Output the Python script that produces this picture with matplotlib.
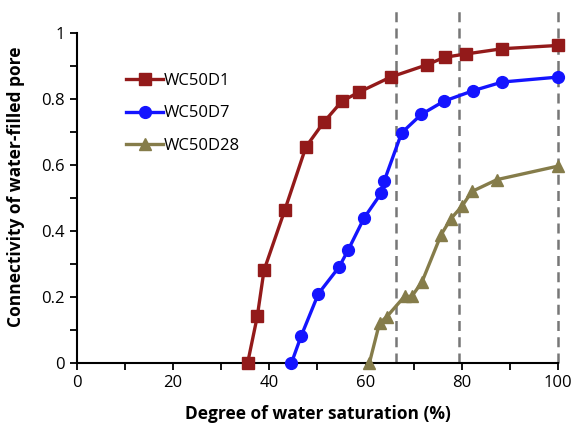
import matplotlib.pyplot as plt
from matplotlib.ticker import MultipleLocator

plt.rcParams['font.family'] = ['Open Sans', 'DejaVu Sans']

# WC50D1
sat_d1 = [35.5, 37.5, 38.9, 43.2, 47.6, 51.3, 55.1, 58.6, 65.2, 72.7, 76.4, 80.8, 88.4, 100]
con_d1 = [0, 0.141, 0.281, 0.463, 0.655, 0.730, 0.794, 0.821, 0.867, 0.904, 0.927, 0.937, 0.953, 0.963]

# WC50D7
sat_d7 = [44.6, 46.6, 50.2, 54.5, 56.4, 59.7, 63.3, 63.9, 67.5, 71.6, 76.3, 82.4, 88.4, 100]
con_d7 = [0, 0.081, 0.210, 0.291, 0.343, 0.440, 0.516, 0.553, 0.698, 0.754, 0.794, 0.826, 0.852, 0.867]

# WC50D28
sat_d28 = [60.8, 62.9, 64.4, 68.1, 69.6, 71.7, 75.7, 77.7, 80.0, 82.1, 87.3, 100]
con_d28 = [0, 0.121, 0.140, 0.202, 0.202, 0.245, 0.389, 0.437, 0.475, 0.520, 0.556, 0.597]

# vertical dashed reference lines
vlines = [66.4, 79.5, 100]

fig = plt.figure(figsize=(5.73, 4.23), dpi=100)
ax = fig.add_axes([0.134, 0.142, 0.84, 0.834])

for x in vlines:
    ax.axvline(x, color='#777777', linestyle=(0, (4, 2.5)), linewidth=1.8, zorder=1, clip_on=False)

ax.plot(sat_d1, con_d1, color='#931A1A', marker='s', markersize=8, linewidth=2.4, label='WC50D1', zorder=3, clip_on=False)
ax.plot(sat_d7, con_d7, color='#1414FF', marker='o', markersize=8.5, linewidth=2.4, label='WC50D7', zorder=3, clip_on=False)
ax.plot(sat_d28, con_d28, color='#857C4A', marker='^', markersize=8, linewidth=2.4, label='WC50D28', zorder=3, clip_on=False)

ax.set_xlim(0, 100)
ax.set_ylim(0, 1.07)
ax.spines['top'].set_visible(False)
ax.spines['right'].set_visible(False)
ax.spines['left'].set_bounds(0, 1)
ax.spines['left'].set_linewidth(1.5)
ax.spines['bottom'].set_linewidth(1.5)

ax.set_xticks([0, 20, 40, 60, 80, 100])
ax.set_yticks([0, 0.2, 0.4, 0.6, 0.8, 1])
ax.set_yticklabels(['0', '0.2', '0.4', '0.6', '0.8', '1'])
ax.xaxis.set_minor_locator(MultipleLocator(10))
ax.yaxis.set_minor_locator(MultipleLocator(0.1))
ax.tick_params(which='both', direction='out', length=5, width=1.3, labelsize=12)

ax.set_xlabel('Degree of water saturation (%)', fontsize=12.5, fontweight='bold', labelpad=10)
ax.set_ylabel('Connectivity of water-filled pore', fontsize=12.5, fontweight='bold', labelpad=12)

ax.legend(loc='upper left', bbox_to_anchor=(0.072, 0.865), frameon=False, fontsize=12,
          handlelength=2.2, handletextpad=0.05, labelspacing=1.0)

plt.savefig('out.png', dpi=100)
